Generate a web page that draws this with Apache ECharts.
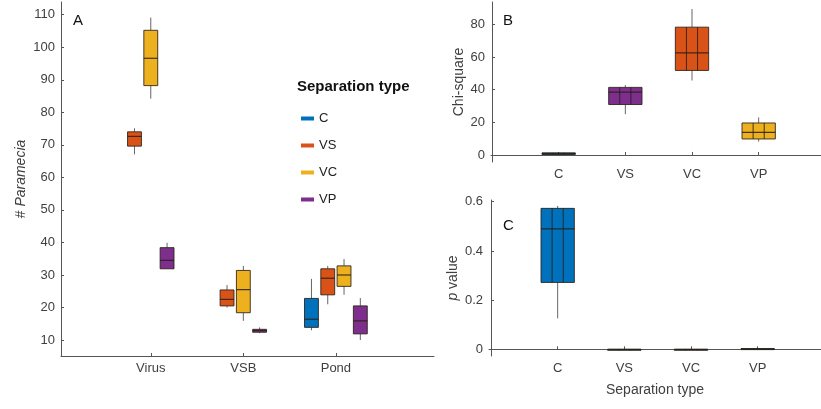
<!DOCTYPE html>
<html>
<head>
<meta charset="utf-8">
<script src="https://cdn.jsdelivr.net/npm/echarts@6/dist/echarts.min.js"></script>
<style>
  html, body { margin: 0; padding: 0; background: #fff; }
  #chart { width: 821px; height: 409px; }
</style>
</head>
<body>
<div id="chart"></div>
<script>
// 面板A：分组箱线图
const catsA = ['Virus', 'VSB', 'Pond']
const groups = ['C', 'VS', 'VC', 'VP']
// [min, q1, median, q3, max]，null 表示该组不存在
const statsC = [null, null, [13, 13.9, 16.4, 22.8, 28.8]]
const statsVS = [[67.1, 69.6, 72.6, 74.0, 75.1], [20.0, 20.5, 22.5, 25.4, 26.9], [21.0, 23.9, 29.0, 31.9, 32.8]]
const statsVC = [[84.2, 88.2, 96.6, 105.2, 109.1], [15.9, 18.4, 25.5, 31.4, 32.8], [23.9, 26.5, 30.0, 32.8, 34.9]]
const statsVP = [[31.9, 31.9, 34.5, 38.4, 39.9], [12.1, 12.4, 12.9, 13.3, 13.9], [10.0, 11.9, 15.9, 20.5, 22.9]]
const ticksA = [10, 20, 30, 40, 50, 60, 70, 80, 90, 100, 110]

// 面板B / C
const catsB = ['C', 'VS', 'VC', 'VP']
const chiStats = [[0.1, 0.3, 0.8, 1.3, 1.8], [25.0, 30.9, 38.5, 41.4, 42.8], [45.6, 51.8, 62.6, 78.3, 89.4], [8.2, 9.8, 13.9, 19.6, 23.0]]
const pStats = [[0.126, 0.272, 0.49, 0.573, 0.583], [0, 0, 0, 0, 0], [0, 0, 0, 0, 0], [0, 0.001, 0.002, 0.003, 0.004]]
const ticksB = [0, 20, 40, 60, 80]
const ticksC = [0, 0.2, 0.4, 0.6]

const colors = { C: '#0072BD', VS: '#D95319', VC: '#EDB120', VP: '#7E2F8E' }
const chiFill = [colors.C, colors.VP, colors.VS, colors.VC]
const pFill = [colors.C, colors.C, colors.C, colors.C]

const FONT = 'Liberation Sans'
const AXIS = '#555555'
const LABEL = '#404040'
const WHISKER = '#666666'
const EDGE = 'rgba(40,30,20,0.85)'

const allStats = { C: statsC, VS: statsVS, VC: statsVC, VP: statsVP }

// 每个类别里实际存在的组，居中排列
const spacing = 0.176
function groupData(g) {
  let out = []
  catsA.forEach((cat, ci) => {
    let present = groups.filter(k => allStats[k][ci])
    let idx = present.indexOf(g)
    if (idx < 0) return
    let off = (idx - (present.length - 1) / 2) * spacing
    out.push([ci + 1 + off].concat(allStats[g][ci]))
  })
  return out
}

function boxRender(halfW, inner, fillOf) {
  return function (params, api) {
    let x = api.value(0)
    let lo = api.coord([x, api.value(1)])
    let q1 = api.coord([x, api.value(2)])
    let md = api.coord([x, api.value(3)])
    let q3 = api.coord([x, api.value(4)])
    let hi = api.coord([x, api.value(5)])
    let xl = api.coord([x - halfW, 0])[0]
    let xr = api.coord([x + halfW, 0])[0]
    let fill = fillOf ? fillOf(params.dataIndex) : api.visual('color')
    let h = Math.max(q1[1] - q3[1], 1)
    let kids = [
      { type: 'line', shape: { x1: hi[0], y1: hi[1], x2: q3[0], y2: q3[1] }, style: { stroke: WHISKER, lineWidth: 1 } },
      { type: 'line', shape: { x1: q1[0], y1: q1[1], x2: lo[0], y2: lo[1] }, style: { stroke: WHISKER, lineWidth: 1 } },
      { type: 'rect', shape: { x: xl, y: q3[1], width: xr - xl, height: h }, style: { fill: fill, stroke: EDGE, lineWidth: 1 } },
      { type: 'line', shape: { x1: xl, y1: md[1], x2: xr, y2: md[1] }, style: { stroke: EDGE, lineWidth: 1.2 } },
    ]
    if (inner) {
      [1 / 3, 2 / 3].forEach(f => {
        let xx = xl + (xr - xl) * f
        kids.push({ type: 'line', shape: { x1: xx, y1: q3[1], x2: xx, y2: q3[1] + h }, style: { stroke: EDGE, lineWidth: 1 } })
      })
    }
    return { type: 'group', children: kids }
  }
}

function valueAxis(gi, min, max, ticks, fmt) {
  return {
    type: 'value', gridIndex: gi, min: min, max: max,
    splitLine: { show: false },
    axisLine: { show: true, lineStyle: { color: AXIS } },
    axisTick: { show: true, inside: true, length: 3, lineStyle: { color: AXIS }, customValues: ticks },
    axisLabel: { color: LABEL, fontFamily: FONT, fontSize: 13, margin: 6, customValues: ticks, formatter: fmt },
  }
}

let chart = echarts.init(document.getElementById('chart'))
chart.setOption({
  animation: false,
  backgroundColor: '#fff',
  grid: [
    { left: 61, top: 2, width: 373, height: 354 },
    { left: 491, top: 2, width: 330, height: 160 },
    { left: 489, top: 200, width: 332, height: 156 },
  ],
  xAxis: [
    Object.assign(valueAxis(0, 0.03, 4.06, [1, 2, 3], v => catsA[Math.round(v) - 1]), {}),
    valueAxis(1, -0.015, 4.935, [1, 2, 3, 4], v => catsB[Math.round(v) - 1]),
    Object.assign(valueAxis(2, -0.03, 4.95, [1, 2, 3, 4], v => catsB[Math.round(v) - 1]), {
      name: 'Separation type', nameLocation: 'middle', nameGap: 27,
      nameTextStyle: { color: LABEL, fontFamily: FONT, fontSize: 14 },
    }),
  ],
  yAxis: [
    Object.assign(valueAxis(0, 5.1, 113.9, ticksA), {
      name: '{n|# }{i|Paramecia}', nameLocation: 'middle', nameGap: 33,
      nameTextStyle: { color: LABEL, fontFamily: FONT, fontSize: 14, rich: { n: { fontSize: 14, fontFamily: FONT, color: LABEL }, i: { fontSize: 14, fontFamily: FONT, fontStyle: 'italic', color: LABEL } } },
    }),
    Object.assign(valueAxis(1, -4.3, 93.7, ticksB), {
      name: 'Chi-square', nameLocation: 'middle', nameGap: 25,
      nameTextStyle: { color: LABEL, fontFamily: FONT, fontSize: 14 },
    }),
    Object.assign(valueAxis(2, -0.027, 0.607, ticksC, v => String(v)), {
      name: '{i|p}{n| value}', nameLocation: 'middle', nameGap: 29,
      nameTextStyle: { color: LABEL, fontFamily: FONT, fontSize: 14, rich: { n: { fontSize: 14, fontFamily: FONT, color: LABEL }, i: { fontSize: 14, fontFamily: FONT, fontStyle: 'italic', color: LABEL } } },
    }),
  ],
  legend: {
    data: groups, orient: 'vertical', left: 296, top: 107,
    icon: 'rect', itemWidth: 13, itemHeight: 4, itemGap: 14,
    textStyle: { color: '#222', fontFamily: FONT, fontSize: 13 },
  },
  graphic: [
    { type: 'text', left: 297, top: 79, style: { text: 'Separation type', fontFamily: FONT, fontSize: 15, fontWeight: 'bold', fill: '#111' } },
    { type: 'text', left: 73, top: 13, style: { text: 'A', fontFamily: FONT, fontSize: 15, fill: '#111' } },
    { type: 'text', left: 503, top: 13, style: { text: 'B', fontFamily: FONT, fontSize: 15, fill: '#111' } },
    { type: 'text', left: 503, top: 218, style: { text: 'C', fontFamily: FONT, fontSize: 15, fill: '#111' } },
  ],
  series: groups.map(g => ({
    name: g, type: 'custom', xAxisIndex: 0, yAxisIndex: 0,
    itemStyle: { color: colors[g] },
    renderItem: boxRender(0.075, false),
    encode: { x: 0, y: [1, 2, 3, 4, 5] },
    data: groupData(g),
  })).concat([
    {
      name: 'chi', type: 'custom', xAxisIndex: 1, yAxisIndex: 1,
      renderItem: boxRender(0.25, true, i => chiFill[i]),
      encode: { x: 0, y: [1, 2, 3, 4, 5] },
      data: chiStats.map((s, i) => [i + 1].concat(s)),
    },
    {
      name: 'pv', type: 'custom', xAxisIndex: 2, yAxisIndex: 2,
      renderItem: boxRender(0.25, true, i => pFill[i]),
      encode: { x: 0, y: [1, 2, 3, 4, 5] },
      data: pStats.map((s, i) => [i + 1].concat(s)),
    },
  ]),
})
</script>
</body>
</html>
